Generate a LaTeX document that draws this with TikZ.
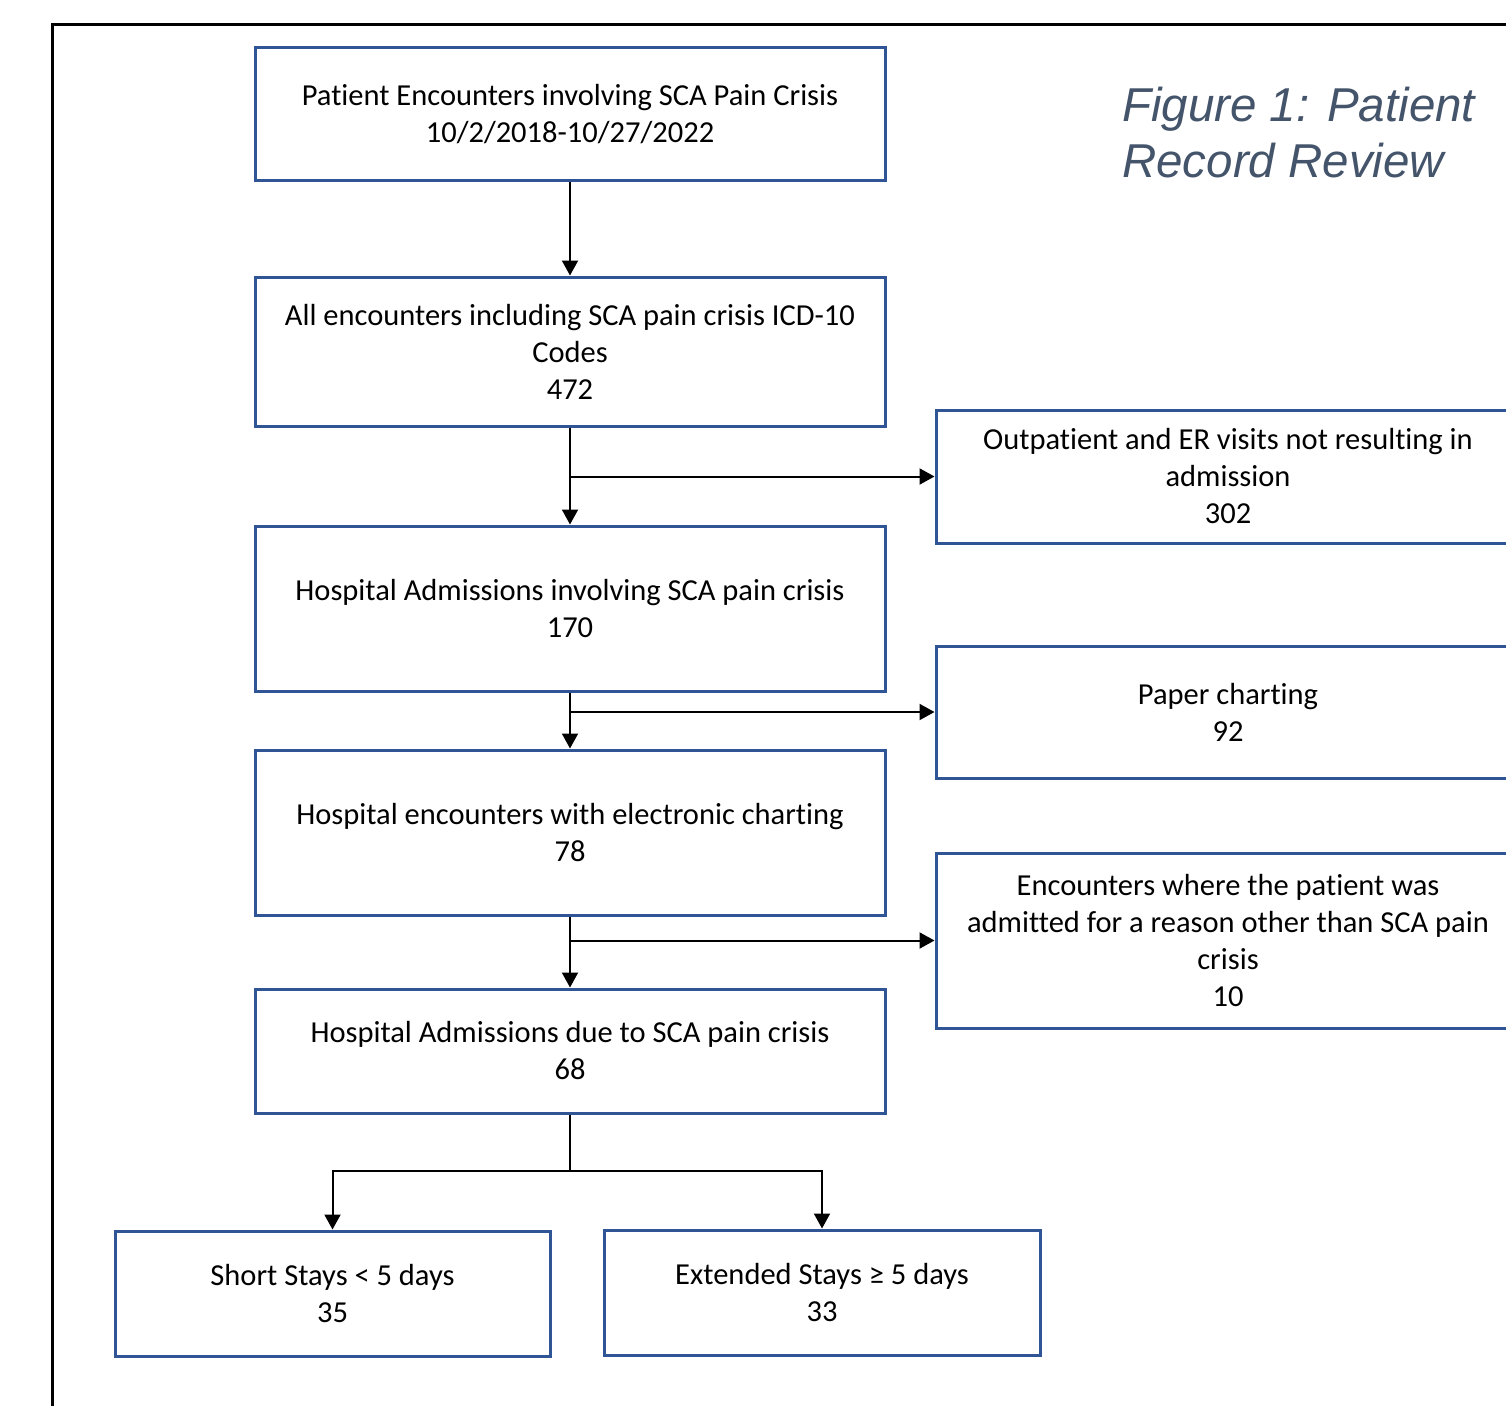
\documentclass[tikz,border=0pt]{standalone}
\usepackage{fontspec}
\setmainfont{Carlito}[Ligatures=NoCommon]
\newfontfamily\titlefont{Liberation Sans}
\usetikzlibrary{arrows.meta}
\definecolor{boxblue}{HTML}{2F5597}
\definecolor{titlegray}{HTML}{44546A}
\begin{document}
\begin{tikzpicture}[x=1pt,y=-1pt,
 box/.style={draw=boxblue, line width=3pt, align=center, font=\fontsize{30.5}{37}\selectfont, inner sep=0pt},
 conn/.style={line width=2pt, -{Triangle[length=15pt,width=16pt]}},
 plain/.style={line width=2pt}]
\useasboundingbox (0,0) rectangle (1506,1405);
\clip (0,0) rectangle (1506,1405);
\fill[white] (0,0) rectangle (1506,1405);
\draw[line width=3pt] (52,1500) -- (52,25) -- (1600,25);

\node[box, minimum width=630pt, minimum height=132pt] (b1) at (570,114) {Patient Encounters involving SCA Pain Crisis\\10/2/2018-10/27/2022};
\node[box, minimum width=630pt, minimum height=149pt] (b2) at (570,351.5) {All encounters including SCA pain crisis ICD-10\\Codes\\472};
\node[box, minimum width=630pt, minimum height=165pt] (b3) at (570,608.5) {Hospital Admissions involving SCA pain crisis\\170};
\node[box, minimum width=630pt, minimum height=165pt] (b4) at (570,832.5) {Hospital encounters with electronic charting\\78};
\node[box, minimum width=630pt, minimum height=124pt] (b5) at (570,1051) {Hospital Admissions due to SCA pain crisis\\68};

\node[box, minimum width=584pt, minimum height=133pt] (r1) at (1228,476.5) {Outpatient and ER visits not resulting in\\admission\\302};
\node[box, minimum width=584pt, minimum height=132pt] (r2) at (1228,712) {Paper charting\\92};
\node[box, minimum width=584pt, minimum height=175pt] (r3) at (1228,940.5) {Encounters where the patient was\\admitted for a reason other than SCA pain\\crisis\\10};

\node[box, minimum width=435pt, minimum height=125pt] (s1) at (332.5,1293.5) {Short Stays < 5 days\\35};
\node[box, minimum width=436pt, minimum height=125pt] (s2) at (822,1292.5) {Extended Stays ≥ 5 days\\33};

\node[anchor=base west, align=left, inner sep=0pt, text=titlegray,
      font=\titlefont\itshape\fontsize{47.5}{56}\selectfont] (title) at (1122,177) {Figure 1: Patient\\Record Review};

\draw[conn] (b1.south) -- (b2.north);
\draw[conn] (b2.south) -- (b3.north);
\draw[conn] (b2.south |- r1.west) -- (r1.west);
\draw[conn] (b3.south) -- (b4.north);
\draw[conn] (b3.south |- r2.west) -- (r2.west);
\draw[conn] (b4.south) -- (b5.north);
\draw[conn] (b4.south |- r3.west) -- (r3.west);
\coordinate (split) at (570,1171);
\draw[plain] (b5.south) -- (split);
\draw[conn] (split) -| (s1.north);
\draw[conn] (split) -| (s2.north);
\end{tikzpicture}
\end{document}
